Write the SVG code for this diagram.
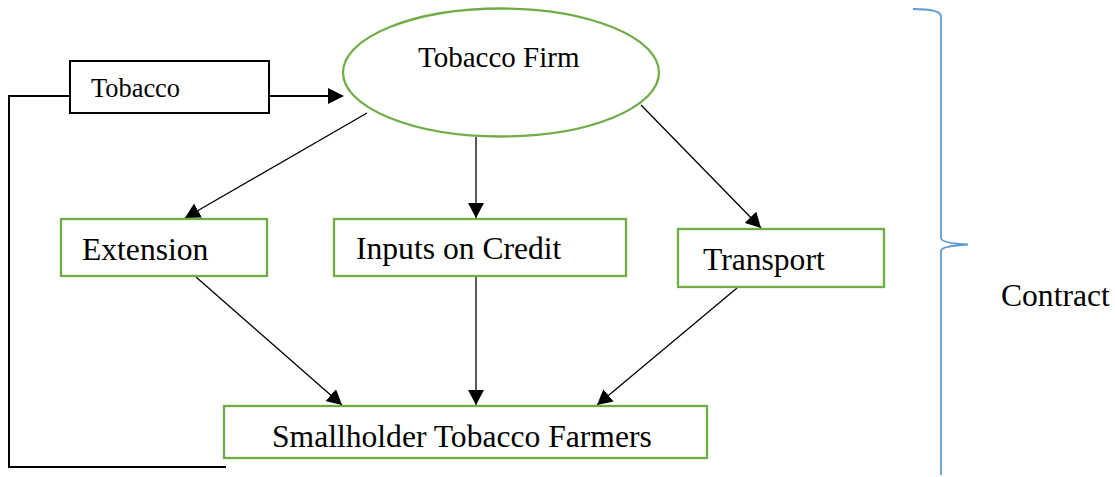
<svg xmlns="http://www.w3.org/2000/svg" width="1115" height="477" viewBox="0 0 1115 477">
  <style>
    text { font-family: "Liberation Serif", "Times New Roman", serif; fill: #000; }
    .box { fill: #fff; stroke: #70AD47; stroke-width: 2.3; }
    .plain { fill: #fff; stroke: #000; stroke-width: 2; }
    .edge { stroke: #000; stroke-width: 1.3; fill: none; marker-end: url(#arrow); }
    .loop { stroke: #000; stroke-width: 2; fill: none; }
    .lbl { font-size: 31.6px; }
    .brace { stroke: #5B9BD5; stroke-width: 1.8; fill: none; }
  </style>
  <defs>
    <marker id="arrow" markerUnits="userSpaceOnUse" markerWidth="16" markerHeight="16" refX="15" refY="8" orient="auto">
      <path d="M0,0 L15,8 L0,16 z" fill="#000"/>
    </marker>
  </defs>

  <rect width="1115" height="477" fill="#fff"/>

  <g id="connectors">
    <line class="edge" x1="367" y1="113" x2="185" y2="218"/>
    <line class="edge" x1="476" y1="137" x2="476" y2="218"/>
    <line class="edge" x1="641" y1="105" x2="761" y2="228"/>
    <line class="edge" x1="196" y1="277" x2="342" y2="405"/>
    <line class="edge" x1="476" y1="277" x2="476" y2="405"/>
    <line class="edge" x1="737" y1="288" x2="597" y2="405"/>
    <!-- feedback loop from farmers back to the firm -->
    <polyline class="loop" points="226,467 9,467 9,96 70,96"/>
    <line class="loop" x1="269" y1="96" x2="329" y2="96"/>
    <path d="M328,88 L344,96 L328,104 z" fill="#000"/>
  </g>

  <g id="tobacco">
    <rect class="plain" x="70" y="61" width="199" height="52"/>
    <text x="91" y="97" font-size="26.4">Tobacco</text>
  </g>

  <g id="firm">
    <ellipse cx="501" cy="72.5" rx="158" ry="64" fill="#fff" stroke="#70AD47" stroke-width="2.3"/>
    <text x="418" y="67" font-size="29">Tobacco Firm</text>
  </g>

  <g id="extension">
    <rect class="box" x="61" y="219" width="206" height="57"/>
    <text class="lbl" x="82" y="260">Extension</text>
  </g>

  <g id="inputs">
    <rect class="box" x="334" y="219" width="292" height="57"/>
    <text class="lbl" x="356" y="259">Inputs on Credit</text>
  </g>

  <g id="transport">
    <rect class="box" x="678" y="229" width="206" height="58"/>
    <text class="lbl" x="703" y="270">Transport</text>
  </g>

  <g id="farmers">
    <rect class="box" x="224" y="406" width="483" height="52"/>
    <text class="lbl" x="272" y="447">Smallholder Tobacco Farmers</text>
  </g>

  <g id="contract">
    <path class="brace" d="M913,9 Q940,9 941,16 L941,238 Q941,243 968,244.5 Q941,246 941,251 L941,475"/>
    <text class="lbl" x="1001" y="306">Contract</text>
  </g>
</svg>
